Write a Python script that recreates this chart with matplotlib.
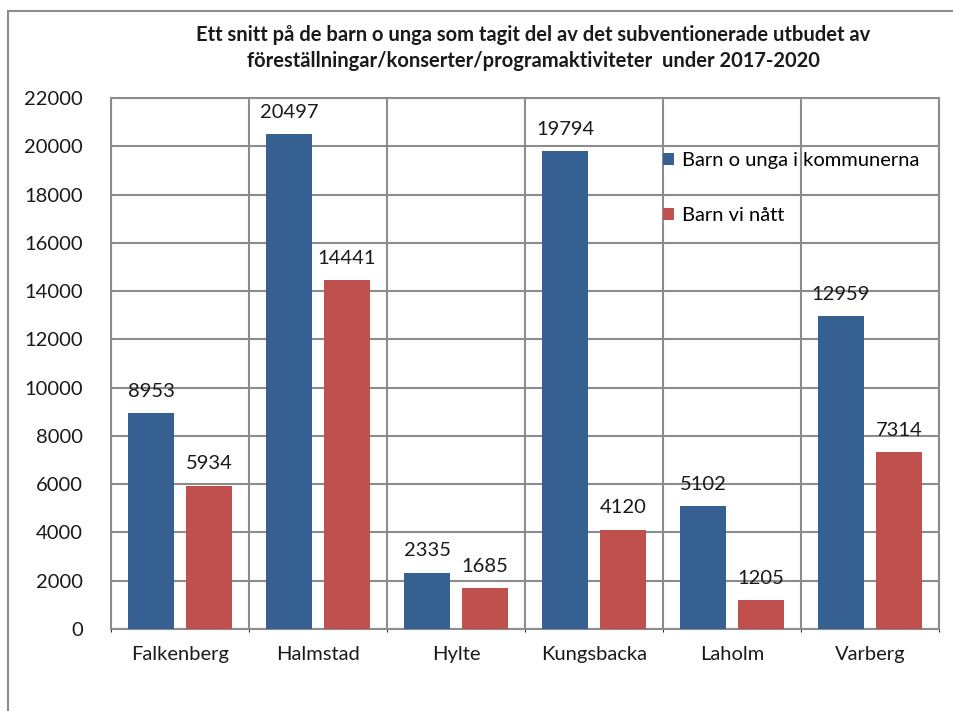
import matplotlib
matplotlib.use("Agg")
import matplotlib.pyplot as plt
from matplotlib.patches import Rectangle
import numpy as np

categories = ["Falkenberg", "Halmstad", "Hylte", "Kungsbacka", "Laholm", "Varberg"]
barn_unga = [8953, 20497, 2335, 19794, 5102, 12959]
barn_natt = [5934, 14441, 1685, 4120, 1205, 7314]
series_names = ["Barn o unga i kommunerna", "Barn vi nått"]
title = ("Ett snitt på de barn o unga som tagit del av det subventionerade utbudet av\n"
         "föreställningar/konserter/programaktiviteter  under 2017-2020")

plt.rcParams['font.family'] = ['Lato', 'DejaVu Sans']

W, H = 954, 711
fig = plt.figure(figsize=(W/100, H/100), dpi=100)
# outer chart frame (left & top edges visible)
fig.patches.append(Rectangle((8/W, -0.1), 1.2, (H-11)/H + 0.1, transform=fig.transFigure,
                             fill=False, edgecolor='#8c8c8c', linewidth=1.5))

ax = fig.add_axes([111/W, 1-629/H, (939-111)/W, (629-98)/H])
x = np.arange(len(categories))
w = 0.333
off = 0.21
blue = '#376092'
red = '#C0504D'
fs = 14.5
b1 = ax.bar(x - off, barn_unga, w, color=blue, label=series_names[0], zorder=3)
b2 = ax.bar(x + off, barn_natt, w, color=red, label=series_names[1], zorder=3)
for bars, vals in ((b1, barn_unga), (b2, barn_natt)):
    for r, v in zip(bars, vals):
        ax.text(r.get_x() + r.get_width()/2, v + 550, str(v), ha='center', va='bottom',
                fontsize=fs, color='#1a1a1a')

ax.set_xlim(-0.5, len(categories) - 0.5)
ax.set_ylim(0, 22000)
ax.set_yticks(np.arange(0, 22001, 2000))
ax.set_xticks(x)
ax.set_xticklabels(categories)
ax.set_xticks(np.arange(-0.5, len(categories), 1), minor=True)
ax.tick_params(axis='both', length=0, labelsize=fs, colors='#1a1a1a')
ax.tick_params(axis='x', pad=12)
ax.tick_params(axis='y', pad=20)
ax.grid(True, axis='y', color='#8c8c8c', linewidth=1.5, zorder=0)
ax.grid(True, axis='x', which='minor', color='#8c8c8c', linewidth=1.5, zorder=0)
ax.grid(False, axis='x', which='major')
for s in ax.spines.values():
    s.set_color('#8c8c8c')
    s.set_linewidth(1.5)

leg = ax.legend(loc='upper left', bbox_to_anchor=(0.655, 0.917), frameon=False,
                fontsize=fs, handlelength=0.55, handleheight=0.55, handletextpad=0.35,
                labelspacing=1.9, borderpad=0)

fig.text(533/W, 1-48/H, title, ha='center', va='center', fontsize=14.5,
         fontweight='bold', linespacing=1.4, color='#1a1a1a')

fig.savefig("out.png", dpi=100)
